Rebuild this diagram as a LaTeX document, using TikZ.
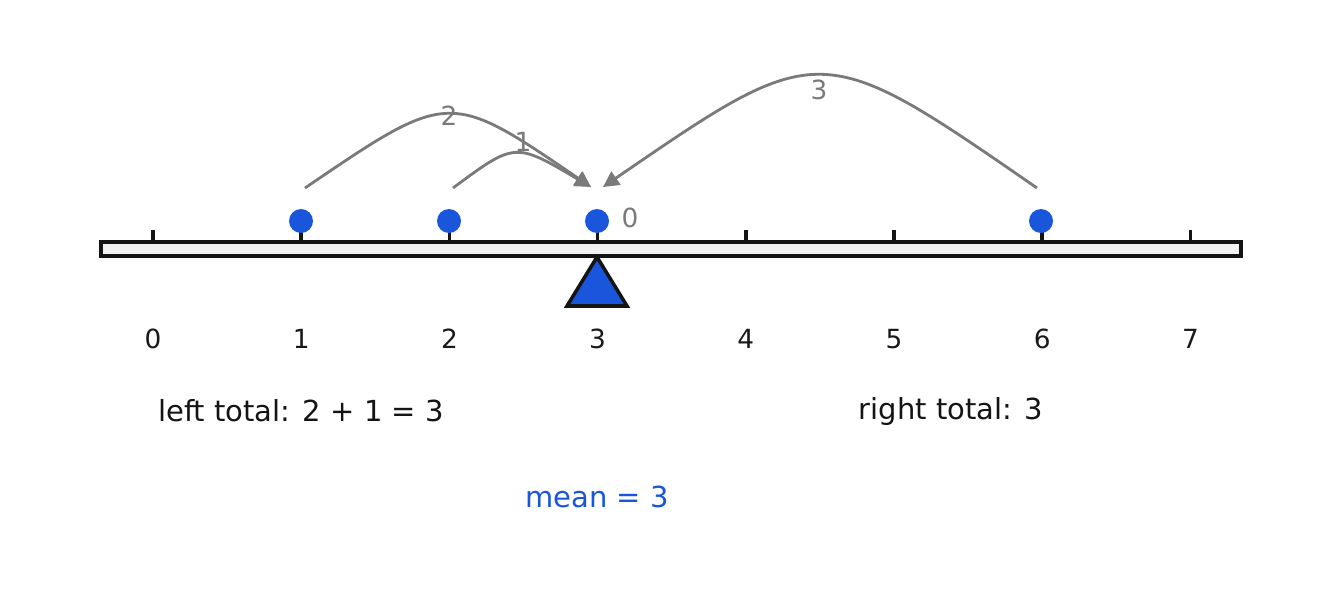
\documentclass[tikz,border=0pt]{standalone}
\usepackage{fontspec}
\setmainfont{DejaVu Sans}
\usetikzlibrary{shapes.geometric,arrows.meta}
\begin{document}
\begin{tikzpicture}[x=0.02cm,y=-0.02cm,
  num/.style={font=\fontsize{15}{18}\selectfont, text=black!90},
  lab/.style={font=\fontsize{15}{18}\selectfont, text=black!52},
  big/.style={font=\fontsize{16.5}{20}\selectfont},
  arc/.style={draw=black!52, line width=1.6pt, -{Stealth[length=9pt,width=9pt,inset=0pt]}}]
\definecolor{myblue}{HTML}{1A56DB}
\useasboundingbox (0,0) rectangle (1342,602);
\draw[line width=2pt, draw=black!92, fill=black!5] (101,242) rectangle (1241,256);
\foreach \i in {0,...,7} {
  \draw[line width=2pt, draw=black!92] ({153+148.2*\i},230) -- ({153+148.2*\i},242);
  \node[num] (n\i) at ({153+148.2*\i},339) {\i};
}
\draw[draw=black!92, line width=2pt, fill=myblue, line join=miter] (597,257) -- (627,306) -- (567,306) -- cycle;
\foreach \n/\x in {a/301,b/449,c/597,d/1041} \node[circle, fill=myblue, inner sep=0pt, minimum size=0.48cm] (\n) at (\x,221) {};
\coordinate (s2) at (305,188); \coordinate (s1) at (453,188); \coordinate (s3) at (1037,188);
\coordinate (e1) at (591,187); \coordinate (e3) at (603,187);
\draw[arc] (s2) .. controls (449,90) .. (e1);
\draw[arc] (s1) .. controls (515,142) .. (e1);
\draw[arc] (s3) .. controls (820,38) .. (e3);
\node[lab] (l2) at (449,116) {2};
\node[lab] (l1) at (523,142) {1};
\node[lab] (l3) at (819,90) {3};
\node[lab] (l0) at (630,218) {0};
\node[big, text=black!92] (lt) at (301,411) {left total: 2 + 1 = 3};
\node[big, text=black!92] (rt) at (951,411) {right total: 3};
\node[big, text=myblue] (m) at (597,497) {mean = 3};
\end{tikzpicture}
\end{document}
